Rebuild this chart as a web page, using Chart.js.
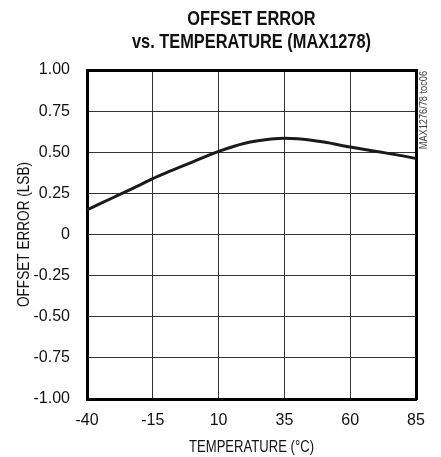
<!DOCTYPE html>
<html>
<head>
<meta charset="utf-8">
<script src="https://cdn.jsdelivr.net/npm/chart.js@4"></script>
<style>
  html, body { margin: 0; padding: 0; background: #fff; }
  #wrap { width: 441px; height: 457px; }
</style>
</head>
<body>
<div id="wrap"><canvas id="chart" width="441" height="457"></canvas></div>
<script>
// temperature (°C) and offset error (LSB)
let temps = [-40, -30, -20, -15, -10, 0, 10, 20, 30, 35, 40, 50, 60, 70, 80, 85]
let offsetErr = [0.15, 0.225, 0.30, 0.34, 0.375, 0.44, 0.505, 0.555, 0.58, 0.585, 0.582, 0.562, 0.532, 0.505, 0.478, 0.462]

let xTicks = [-40, -15, 10, 35, 60, 85]
let yTicks = [-1, -0.75, -0.5, -0.25, 0, 0.25, 0.5, 0.75, 1]

let titleLines = ['OFFSET ERROR', 'vs. TEMPERATURE (MAX1278)']
let xTitle = 'TEMPERATURE (°C)'
let yTitle = 'OFFSET ERROR (LSB)'
let sideNote = 'MAX1276/78 toc06'

const FONT = "'Liberation Sans', Arial, sans-serif"

let points = temps.map((t, i) => ({ x: t, y: offsetErr[i] }))

// draw text squeezed horizontally, the original uses a condensed face
function narrowText(ctx, text, x, y, sx) {
  ctx.save()
  ctx.translate(x, y)
  ctx.scale(sx, 1)
  ctx.fillText(text, 0, 0)
  ctx.restore()
}

// titles, axis names and the little side note
let textPlugin = {
  id: 'texts',
  afterDraw(chart) {
    let ctx = chart.ctx
    let area = chart.chartArea
    let cx = (area.left + area.right) / 2
    ctx.save()
    ctx.fillStyle = '#111'
    ctx.textAlign = 'center'
    ctx.textBaseline = 'middle'
    ctx.font = 'bold 21px ' + FONT
    narrowText(ctx, titleLines[0], cx, 19, 0.78)
    narrowText(ctx, titleLines[1], cx, 42, 0.78)

    ctx.font = '17px ' + FONT
    narrowText(ctx, xTitle, cx, 447, 0.77)

    ctx.save()
    ctx.translate(24, (area.top + area.bottom) / 2)
    ctx.rotate(-Math.PI / 2)
    narrowText(ctx, yTitle, 0, 0, 0.8)
    ctx.restore()

    ctx.save()
    ctx.translate(424, area.top + 1)
    ctx.rotate(-Math.PI / 2)
    ctx.textAlign = 'right'
    ctx.font = '10px ' + FONT
    ctx.fillStyle = '#444'
    narrowText(ctx, sideNote, 0, 0, 0.92)
    ctx.restore()
    ctx.restore()
  }
}

let chart = new Chart(document.getElementById('chart').getContext('2d'), {
  type: 'line',
  data: {
    datasets: [{
      data: points,
      borderColor: '#1a1a1a',
      borderWidth: 3,
      pointRadius: 0,
      fill: false,
      cubicInterpolationMode: 'monotone'
    }]
  },
  options: {
    responsive: false,
    animation: false,
    layout: { padding: { top: 70, right: 25, left: 0, bottom: 0 } },
    plugins: {
      legend: { display: false },
      title: { display: false },
      tooltip: { enabled: false }
    },
    scales: {
      x: {
        type: 'linear',
        min: -40,
        max: 85,
        afterBuildTicks: s => { s.ticks = xTicks.map(v => ({ value: v })) },
        afterFit: s => { s.height = 58 },
        grid: { color: '#333', lineWidth: 1, drawTicks: false },
        border: { color: '#000', width: 3 },
        ticks: {
          color: '#111',
          font: { family: FONT, size: 16 },
          padding: 12,
          maxRotation: 0,
          callback: v => String(v)
        }
      },
      y: {
        min: -1,
        max: 1,
        afterBuildTicks: s => { s.ticks = yTicks.map(v => ({ value: v })) },
        afterFit: s => { s.width = 87 },
        grid: { color: '#333', lineWidth: 1, drawTicks: false },
        border: { color: '#000', width: 3 },
        ticks: {
          color: '#111',
          font: { family: FONT, size: 16 },
          padding: 17,
          callback: v => v === 0 ? '0' : v.toFixed(2)
        }
      },
      xTop: {
        type: 'linear',
        position: 'top',
        min: -40,
        max: 85,
        afterFit: s => { s.height = 0 },
        grid: { display: false, drawTicks: false },
        border: { color: '#000', width: 3 },
        ticks: { display: false }
      },
      yRight: {
        position: 'right',
        min: -1,
        max: 1,
        afterFit: s => { s.width = 0 },
        grid: { display: false, drawTicks: false },
        border: { color: '#000', width: 3 },
        ticks: { display: false }
      }
    }
  },
  plugins: [textPlugin]
})
</script>
</body>
</html>
